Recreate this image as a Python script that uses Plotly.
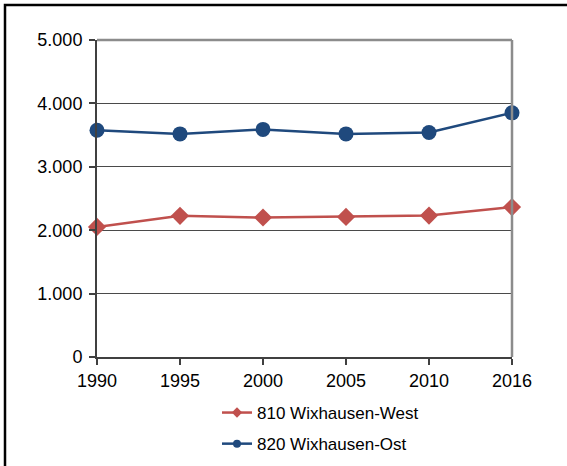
import plotly.graph_objects as go

years = ['1990', '1995', '2000', '2005', '2010', '2016']
west = [2052, 2226, 2200, 2210, 2231, 2364]
ost = [3576, 3519, 3590, 3519, 3540, 3851]

red = '#C0504D'
blue = '#1F497D'

W, H = 567, 466
L, R, T, B = 97, 55, 40, 109
pw, ph = W - L - R, H - T - B

fig = go.Figure()

# plotted series (no legend, bigger markers)
fig.add_trace(go.Scatter(x=years, y=west, mode='lines+markers', showlegend=False,
                         line=dict(color=red, width=2.5),
                         marker=dict(symbol='diamond', size=14, color=red),
                         cliponaxis=False))
fig.add_trace(go.Scatter(x=years, y=ost, mode='lines+markers', showlegend=False,
                         line=dict(color=blue, width=2.5),
                         marker=dict(symbol='circle', size=15, color=blue),
                         cliponaxis=False))
# legend-only entries with small markers
fig.add_trace(go.Scatter(x=[None], y=[None], mode='lines+markers', name='810 Wixhausen-West',
                         legendgroup='w',
                         line=dict(color=red, width=2.5),
                         marker=dict(symbol='diamond', size=8, color=red)))
fig.add_trace(go.Scatter(x=[None], y=[None], mode='lines+markers', name='820 Wixhausen-Ost',
                         legendgroup='o',
                         line=dict(color=blue, width=2.5),
                         marker=dict(symbol='circle', size=8, color=blue)))

# top / right frame of plot area in grey
fig.add_shape(type='line', xref='paper', yref='paper', x0=0, x1=1, y0=1, y1=1,
              line=dict(color='#8C8C8C', width=2.5))
fig.add_shape(type='line', xref='paper', yref='paper', x0=1, x1=1, y0=0, y1=1,
              line=dict(color='#8C8C8C', width=2.5))
# outer chart border (runs off the right and bottom edges)
fig.add_shape(type='rect', xref='paper', yref='paper',
              x0=(5 - L) / pw, x1=(W + 10 - L) / pw,
              y0=-(H + 10 - T - ph) / ph, y1=(ph + T - 5) / ph,
              line=dict(color='black', width=2.5), layer='above')

fig.update_layout(
    width=W, height=H,
    margin=dict(l=L, r=R, t=T, b=B, autoexpand=False),
    paper_bgcolor='white', plot_bgcolor='white',
    separators=',.',
    font=dict(family='Liberation Sans, Arial, sans-serif', size=17, color='black'),
    xaxis=dict(type='category', range=[0, 5], showgrid=False,
               showline=True, linecolor='#404040', linewidth=2,
               ticks='outside', ticklen=6, tickcolor='#404040', tickwidth=1.5,
               tickfont=dict(size=18)),
    yaxis=dict(range=[0, 5000], dtick=1000, tickformat=',d',
               showgrid=True, gridcolor='#4A4A4A', gridwidth=1, zeroline=False,
               showline=True, linecolor='#404040', linewidth=2,
               ticks='outside', ticklen=6, tickcolor='#404040', tickwidth=1.5,
               ticklabelstandoff=3,
               tickfont=dict(size=18)),
    legend=dict(xref='container', yref='container',
                x=217 / W, xanchor='left', y=(H - 395) / H, yanchor='top',
                orientation='v', font=dict(size=17), tracegroupgap=6,
                bgcolor='rgba(0,0,0,0)'),
)

fig.write_html('out.html', config={'displayModeBar': False},
               post_script="document.body.style.margin='0';")
